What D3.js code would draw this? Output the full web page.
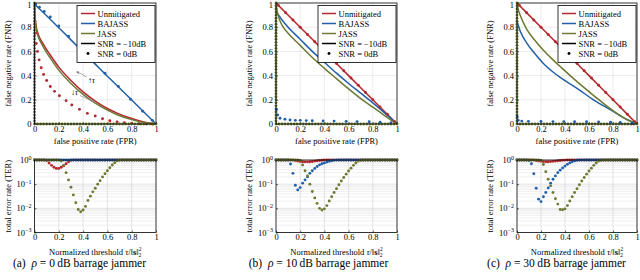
<!DOCTYPE html>
<html><head><meta charset="utf-8">
<script src="https://cdn.jsdelivr.net/npm/d3@7"></script>
<style>
body{margin:0;background:#fff}
svg{display:block}
text{font-family:"Liberation Serif","Times New Roman",serif;fill:#000}
</style>
</head><body>
<svg id="chart" width="640" height="280"></svg>
<script>
// ---------------- DATA ----------------
const rocTicks = [0, 0.2, 0.4, 0.6, 0.8, 1];
const terXTicks = [0, 0.2, 0.4, 0.6, 0.8, 1];
const terYTicks = [1, 0.1, 0.01, 0.001];
const terYTickExp = ["0", "\u22121", "\u22122", "\u22123"];
const legendLabels = ["Unmitigated", "BAJASS", "JASS", "SNR = \u221210dB", "SNR = 0dB"];
const captionLetters = ["(a)", "(b)", "(c)"];
const jammerPowers = ["0", "10", "30"];

// ROC, SNR = -10 dB (solid lines), [FPR, FNR]
const rocA_unmit10 = [[0,1],[0.004,0.9],[0.012,0.82],[0.03,0.745],[0.06,0.68],[0.1,0.615],[0.13,0.57],[0.2,0.47],[0.3,0.36],[0.4,0.265],[0.5,0.19],[0.6,0.128],[0.68,0.09],[0.8,0.045],[0.9,0.017],[1,0]];
const rocA_bajass10 = [[0,0.99],[0.1,0.895],[0.2,0.795],[0.3,0.695],[0.4,0.595],[0.5,0.495],[0.6,0.395],[0.7,0.297],[0.8,0.198],[0.9,0.099],[1,0]];
const rocA_jass10 = [[0,1],[0.004,0.88],[0.012,0.8],[0.03,0.725],[0.06,0.66],[0.1,0.59],[0.13,0.545],[0.2,0.445],[0.3,0.335],[0.4,0.245],[0.5,0.172],[0.6,0.114],[0.68,0.077],[0.8,0.036],[0.9,0.012],[1,0]];
const rocB_unmit10 = [[0,1],[0.2,0.8],[0.4,0.6],[0.6,0.4],[0.8,0.2],[1,0]];
const rocB_bajass10 = [[0,0.93],[0.05,0.86],[0.1,0.8],[0.2,0.7],[0.3,0.6],[0.4,0.51],[0.5,0.42],[0.6,0.335],[0.7,0.255],[0.8,0.175],[0.9,0.09],[1,0]];
const rocB_jass10 = [[0,1],[0.01,0.93],[0.03,0.86],[0.06,0.8],[0.1,0.75],[0.2,0.65],[0.3,0.55],[0.4,0.46],[0.5,0.375],[0.6,0.29],[0.7,0.21],[0.8,0.14],[0.9,0.068],[1,0]];
const rocC_unmit10 = [[0,1],[0.2,0.8],[0.4,0.6],[0.6,0.4],[0.8,0.2],[1,0]];
const rocC_bajass10 = [[0,0.85],[0.03,0.76],[0.083,0.667],[0.15,0.58],[0.22,0.5],[0.3,0.43],[0.36,0.385],[0.5,0.295],[0.64,0.198],[0.78,0.116],[0.92,0.035],[1,0]];
const rocC_jass10 = [[0,1],[0.01,0.95],[0.03,0.89],[0.083,0.78],[0.15,0.69],[0.22,0.61],[0.3,0.53],[0.36,0.475],[0.5,0.35],[0.64,0.235],[0.78,0.125],[0.9,0.045],[1,0]];

// ROC, SNR = 0 dB (markers), [FPR, FNR]
const rocA_unmit0 = [[0.003,0.85],[0.008,0.75],[0.014,0.665],[0.025,0.6],[0.038,0.53],[0.055,0.465],[0.075,0.41],[0.1,0.36],[0.13,0.31],[0.165,0.27],[0.205,0.234],[0.26,0.193],[0.307,0.157],[0.37,0.121],[0.435,0.088],[0.5,0.066],[0.56,0.043],[0.62,0.027],[0.68,0.016],[0.74,0.01],[0.8,0.006],[0.86,0.003],[0.92,0.001],[0.97,0]];
const rocA_bajass0 = [[0.01,0.985],[0.04,0.965],[0.08,0.93],[0.13,0.885],[0.2,0.81],[0.28,0.725],[0.38,0.625],[0.48,0.52],[0.58,0.42],[0.69,0.31],[0.79,0.205],[0.89,0.105],[0.97,0.03]];
const rocB_unmit0 = [[0.02,0.98],[0.08,0.92],[0.14,0.86],[0.2,0.8],[0.26,0.74],[0.32,0.68],[0.38,0.62],[0.44,0.56],[0.5,0.5],[0.56,0.44],[0.62,0.38],[0.68,0.32],[0.74,0.26],[0.8,0.2],[0.86,0.14],[0.92,0.08],[0.98,0.02]];
const rocB_bajass0 = [[0.004,0.12],[0.014,0.075],[0.033,0.047],[0.074,0.039],[0.116,0.033],[0.16,0.03],[0.2,0.03],[0.25,0.028],[0.3,0.027],[0.39,0.025],[0.48,0.024],[0.58,0.022],[0.67,0.02],[0.77,0.018],[0.86,0.015],[0.95,0.01]];
const rocC_unmit0 = [[0.02,0.98],[0.08,0.92],[0.14,0.86],[0.2,0.8],[0.26,0.74],[0.32,0.68],[0.38,0.62],[0.44,0.56],[0.5,0.5],[0.56,0.44],[0.62,0.38],[0.68,0.32],[0.74,0.26],[0.8,0.2],[0.86,0.14],[0.92,0.08],[0.98,0.02]];
const rocC_bajass0 = [[0.002,0.06],[0.01,0.03],[0.04,0.024],[0.095,0.022],[0.2,0.021],[0.3,0.02],[0.39,0.02],[0.48,0.019],[0.58,0.018],[0.68,0.016],[0.78,0.014],[0.86,0.012],[0.96,0.006]];
// JASS at SNR = 0 dB: (near-)perfect detector, markers along both axes
const jass0_leftFNR = [1,0.975,0.95,0.925,0.9,0.875,0.85,0.825,0.8,0.775,0.75,0.725,0.7,0.675,0.65,0.625,0.6,0.575,0.55,0.525,0.5,0.475,0.45,0.425,0.4,0.375,0.35,0.325,0.3,0.275,0.25,0.225,0.2,0.175,0.15,0.125,0.1,0.075,0.05,0.025,0];
const jass0_bottomFPR = [0.025,0.05,0.075,0.1,0.125,0.15,0.175,0.2,0.225,0.25,0.275,0.3,0.325,0.35,0.375,0.4,0.425,0.45,0.475,0.5,0.525,0.55,0.575,0.6,0.625,0.65,0.675,0.7,0.725,0.75,0.775,0.8,0.825,0.85,0.875,0.9,0.925,0.95,0.975,1];

// TER vs normalized threshold (SNR = 0 dB markers)
const thresholds = [0,0.02,0.04,0.06,0.08,0.1,0.12,0.14,0.16,0.18,0.2,0.22,0.24,0.26,0.28,0.3,0.32,0.34,0.36,0.38,0.4,0.42,0.44,0.46,0.48,0.5,0.52,0.54,0.56,0.58,0.6,0.62,0.64,0.66,0.68,0.7,0.72,0.74,0.76,0.78,0.8,0.82,0.84,0.86,0.88,0.9,0.92,0.94,0.96,0.98,1];
const terA_unmit = [1,1,1,1,1,0.95,0.75,0.6,0.5,0.45,0.45,0.5,0.58,0.7,0.85,0.97,1,1,1,1,1,1,1,1,1,1,1,1,1,1,1,1,1,1,1,1,1,1,1,1,1,1,1,1,1,1,1,1,1,1,1];
const terA_bajass = [1,1,1,1,1,1,1,1,1,1,1,1,1,1,1,1,1,1,1,1,1,1,1,1,1,1,1,1,1,1,1,1,1,1,1,1,1,1,1,1,1,1,1,1,1,1,1,1,1,1,1];
const terA_jass = [1,1,1,1,1,1,1,1,1,1,1,0.9,0.6,0.3,0.15,0.075,0.036,0.017,0.009,0.0072,0.0085,0.012,0.021,0.032,0.048,0.068,0.1,0.14,0.2,0.27,0.36,0.48,0.62,0.77,0.92,0.99,1,1,1,1,1,1,1,1,1,1,1,1,1,1,1];
const terB_unmit = [1,1,1,1,1,1,1,1,0.95,0.9,0.87,0.85,0.84,0.84,0.85,0.87,0.9,0.93,0.96,0.98,1,1,1,1,1,1,1,1,1,1,1,1,1,1,1,1,1,1,1,1,1,1,1,1,1,1,1,1,1,1,1];
const terB_bajass = [1,1,1,1,1,1,0.68,0.28,0.09,0.058,0.072,0.11,0.15,0.2,0.28,0.36,0.45,0.54,0.63,0.7,0.76,0.82,0.88,0.93,0.97,0.99,1,1,1,1,1,1,1,1,1,1,1,1,1,1,1,1,1,1,1,1,1,1,1,1,1];
const terB_jass = [1,1,1,1,1,1,1,1,1,1,0.95,0.62,0.36,0.22,0.1,0.05,0.027,0.016,0.01,0.0085,0.0095,0.013,0.02,0.03,0.045,0.065,0.095,0.135,0.19,0.26,0.35,0.46,0.6,0.75,0.9,0.98,1,1,1,1,1,1,1,1,1,1,1,1,1,1,1];
const terC_unmit = [1,1,1,1,1,1,1,1,0.96,0.92,0.88,0.86,0.85,0.85,0.86,0.88,0.9,0.93,0.95,0.97,0.99,1,1,1,1,1,1,1,1,1,1,1,1,1,1,1,1,1,1,1,1,1,1,1,1,1,1,1,1,1,1];
const terC_bajass = [1,1,1,1,1,0.95,0.7,0.27,0.068,0.024,0.019,0.03,0.045,0.07,0.11,0.16,0.22,0.3,0.38,0.47,0.56,0.66,0.76,0.85,0.92,0.97,1,1,1,1,1,1,1,1,1,1,1,1,1,1,1,1,1,1,1,1,1,1,1,1,1];
const terC_jass = [1,1,1,1,1,1,1,1,1,1,0.95,0.65,0.33,0.16,0.085,0.045,0.025,0.015,0.009,0.0088,0.0095,0.013,0.02,0.03,0.045,0.065,0.095,0.135,0.19,0.26,0.35,0.46,0.6,0.75,0.9,0.98,1,1,1,1,1,1,1,1,1,1,1,1,1,1,1];

// ---------------- DRAWING ----------------
const COL = {red: "#b4262c", blue: "#2160a9", olive: "#6c7a33"};
const svg = d3.select("#chart");
svg.append("rect").attr("width", 640).attr("height", 280).attr("fill", "#fff");
const defs = svg.append("defs");
defs.append("marker").attr("id", "ah").attr("viewBox", "0 0 10 10").attr("refX", 8).attr("refY", 5)
  .attr("markerWidth", 5).attr("markerHeight", 5).attr("orient", "auto-start-reverse")
  .append("path").attr("d", "M0,1 L10,5 L0,9 z").attr("fill", "#888");

const jass0 = jass0_leftFNR.map(v => [0, v]).concat(jass0_bottomFPR.map(v => [v, 0]));
const panels = [
  {x0: 34.5, x1: 156, ylab: 7.5, capX: 79.5,
   roc: {u: rocA_unmit10, b: rocA_bajass10, j: rocA_jass10, u0: rocA_unmit0, b0: rocA_bajass0, j0: jass0},
   ter: {u: terA_unmit, b: terA_bajass, j: terA_jass}},
  {x0: 276, x1: 397, ylab: 249, capX: 318.5,
   roc: {u: rocB_unmit10, b: rocB_bajass10, j: rocB_jass10, u0: rocB_unmit0, b0: rocB_bajass0, j0: jass0},
   ter: {u: terB_unmit, b: terB_bajass, j: terB_jass}},
  {x0: 517, x1: 637, ylab: 490, capX: 556.5,
   roc: {u: rocC_unmit10, b: rocC_bajass10, j: rocC_jass10, u0: rocC_unmit0, b0: rocC_bajass0, j0: jass0},
   ter: {u: terC_unmit, b: terC_bajass, j: terC_jass}}
];

const ROC_TOP = 3, ROC_BOT = 124, TER_TOP = 160, TER_BOT = 232.5;
const FS = 8.5;
const fmt = d => d === 0 ? "0" : d === 1 ? "1" : String(d);
const R = 1.45;

panels.forEach((p, pi) => {
  // ---------- ROC ----------
  const x = d3.scaleLinear().domain([0, 1]).range([p.x0, p.x1]);
  const y = d3.scaleLinear().domain([0, 1]).range([ROC_BOT, ROC_TOP]);
  const g = svg.append("g");
  const grid = g.append("g").attr("stroke", "#dedede").attr("stroke-width", 0.6);
  rocTicks.slice(1, -1).forEach(t => {
    grid.append("line").attr("x1", x(t)).attr("x2", x(t)).attr("y1", y(0)).attr("y2", y(1));
    grid.append("line").attr("x1", x(0)).attr("x2", x(1)).attr("y1", y(t)).attr("y2", y(t));
  });
  const ax = g.append("g").attr("transform", `translate(0,${ROC_BOT})`)
    .call(d3.axisBottom(x).tickValues(rocTicks).tickFormat(fmt).tickSizeInner(-2).tickSizeOuter(0).tickPadding(1.5));
  const ay = g.append("g").attr("transform", `translate(${p.x0},0)`)
    .call(d3.axisLeft(y).tickValues(rocTicks).tickFormat(fmt).tickSizeInner(-2).tickSizeOuter(0).tickPadding(3));
  [ax, ay].forEach(a => {
    a.select(".domain").remove();
    a.selectAll("line").attr("stroke", "#000").attr("stroke-width", 0.6);
    a.selectAll("text").attr("font-size", FS).attr("font-family", "Liberation Serif");
  });
  // keep the top "1" label inside the picture
  ay.selectAll(".tick").filter(d => d === 1).select("text").attr("dy", "0.5em");

  const line = d3.line().x(d => x(d[0])).y(d => y(d[1])).curve(d3.curveMonotoneX);
  [["u", COL.red], ["b", COL.blue], ["j", COL.olive]].forEach(([k, c]) => {
    g.append("path").attr("d", line(p.roc[k])).attr("fill", "none").attr("stroke", c).attr("stroke-width", 1.5);
  });
  [["u0", COL.red], ["j0", COL.olive], ["b0", COL.blue]].forEach(([k, c]) => {
    g.append("g").selectAll("circle").data(p.roc[k]).join("circle")
      .attr("cx", d => x(d[0])).attr("cy", d => y(d[1])).attr("r", R).attr("fill", c);
  });
  g.append("rect").attr("x", p.x0).attr("y", ROC_TOP).attr("width", p.x1 - p.x0).attr("height", ROC_BOT - ROC_TOP)
    .attr("fill", "none").attr("stroke", "#000").attr("stroke-width", 0.8);

  // legend
  const lx = p.x1 - 79, ly = 5.5;
  const lg = g.append("g");
  lg.append("rect").attr("x", lx).attr("y", ly).attr("width", 78).attr("height", 57)
    .attr("fill", "#fff").attr("stroke", "#000").attr("stroke-width", 0.8);
  const legCols = [COL.red, COL.blue, COL.olive, "#000", "#000"];
  legendLabels.forEach((lab, i) => {
    const yy = ly + 8 + i * 10;
    if (i < 4) {
      lg.append("line").attr("x1", lx + 4).attr("x2", lx + 18).attr("y1", yy).attr("y2", yy)
        .attr("stroke", legCols[i]).attr("stroke-width", 1.5);
    } else {
      lg.append("circle").attr("cx", lx + 11).attr("cy", yy).attr("r", R).attr("fill", "#000");
    }
    lg.append("text").attr("x", lx + 20.5).attr("y", yy + 3).attr("font-size", FS).text(lab);
  });

  // axis labels
  g.append("text").attr("x", (p.x0 + p.x1) / 2).attr("y", 144).attr("text-anchor", "middle")
    .attr("font-size", FS).text("false positive rate (FPR)");
  g.append("text").attr("transform", `translate(${p.ylab + 3},${(ROC_TOP + ROC_BOT) / 2}) rotate(-90)`)
    .attr("text-anchor", "middle").attr("font-size", FS).text("false negative rate (FNR)");

  // tau annotations (panel a only)
  if (pi === 0) {
    const ann = g.append("g").attr("stroke", "#888").attr("fill", "none").attr("stroke-width", 0.7);
    ann.append("path").attr("d", `M${x(0.43)},${y(0.385)} Q${x(0.39)},${y(0.42)} ${x(0.345)},${y(0.43)}`)
      .attr("marker-end", "url(#ah)");
    ann.append("path").attr("d", `M${x(0.375)},${y(0.235)} Q${x(0.43)},${y(0.21)} ${x(0.49)},${y(0.185)}`)
      .attr("marker-end", "url(#ah)");
    g.append("text").attr("x", x(0.44)).attr("y", y(0.335)).attr("font-size", 8).attr("fill", "#777")
      .html('\u2191<tspan font-style="italic">\u03c4</tspan>');
    g.append("text").attr("x", x(0.3)).attr("y", y(0.24)).attr("font-size", 8).attr("fill", "#777")
      .html('\u2193<tspan font-style="italic">\u03c4</tspan>');
  }

  // ---------- TER ----------
  const tx = d3.scaleLinear().domain([0, 1]).range([p.x0, p.x1]);
  const ty = d3.scaleLog().domain([1e-3, 1]).range([TER_BOT, TER_TOP]);
  const tg = svg.append("g");
  const tgrid = tg.append("g").attr("stroke-width", 0.6);
  ty.ticks().forEach(v => {
    const major = terYTicks.includes(v);
    if (v === 1 || v === 1e-3) return;
    tgrid.append("line").attr("x1", tx(0)).attr("x2", tx(1)).attr("y1", ty(v)).attr("y2", ty(v))
      .attr("stroke", major ? "#d2d2d2" : "#e6e6e6");
  });
  terXTicks.slice(1, -1).forEach(t => {
    tgrid.append("line").attr("x1", tx(t)).attr("x2", tx(t)).attr("y1", TER_TOP).attr("y2", TER_BOT).attr("stroke", "#d2d2d2");
  });
  const tax = tg.append("g").attr("transform", `translate(0,${TER_BOT})`)
    .call(d3.axisBottom(tx).tickValues(terXTicks).tickFormat(fmt).tickSizeInner(-2).tickSizeOuter(0).tickPadding(1.5));
  tax.select(".domain").remove();
  tax.selectAll("line").attr("stroke", "#000").attr("stroke-width", 0.6);
  tax.selectAll("text").attr("font-size", FS).attr("font-family", "Liberation Serif");
  const tay = tg.append("g").attr("transform", `translate(${p.x0},0)`)
    .call(d3.axisLeft(ty).tickValues(terYTicks).tickFormat("").tickSizeInner(-2).tickSizeOuter(0));
  tay.select(".domain").remove();
  tay.selectAll("line").attr("stroke", "#000").attr("stroke-width", 0.6);
  terYTicks.forEach((v, i) => {
    const t = tg.append("text").attr("x", p.x0 - 3).attr("y", ty(v) + 3).attr("text-anchor", "end").attr("font-size", FS);
    t.append("tspan").text("10");
    t.append("tspan").attr("font-size", 6).attr("dy", -3.5).text(terYTickExp[i]);
  });
  [["u", COL.red], ["b", COL.blue], ["j", COL.olive]].forEach(([k, c]) => {
    tg.append("g").selectAll("circle").data(p.ter[k].map((v, i) => [thresholds[i], v])).join("circle")
      .attr("cx", d => tx(d[0])).attr("cy", d => ty(d[1])).attr("r", R).attr("fill", c);
  });
  tg.append("rect").attr("x", p.x0).attr("y", TER_TOP).attr("width", p.x1 - p.x0).attr("height", TER_BOT - TER_TOP)
    .attr("fill", "none").attr("stroke", "#000").attr("stroke-width", 0.8);
  // labels
  const xl = tg.append("text").attr("x", (p.x0 + p.x1) / 2).attr("y", 254.5).attr("text-anchor", "middle").attr("font-size", FS);
  xl.append("tspan").text("Normalized threshold ");
  xl.append("tspan").attr("font-style", "italic").text("\u03c4");
  xl.append("tspan").text("/\u2016");
  xl.append("tspan").attr("font-weight", "bold").text("s");
  xl.append("tspan").text("\u2016");
  xl.append("tspan").attr("font-size", 5.5).attr("dy", -3.5).text("2");
  xl.append("tspan").attr("font-size", 5.5).attr("dx", -2.8).attr("dy", 6).text("2");
  tg.append("text").attr("transform", `translate(${p.ylab + 3},${(TER_TOP + TER_BOT) / 2}) rotate(-90)`)
    .attr("text-anchor", "middle").attr("font-size", FS).text("total error rate (TER)");

  // caption
  const cap = svg.append("text").attr("x", p.capX).attr("y", 267).attr("text-anchor", "middle").attr("font-size", 11.5);
  cap.append("tspan").text(captionLetters[pi] + "\u2002");
  cap.append("tspan").attr("font-style", "italic").text("\u03c1");
  cap.append("tspan").text(" = " + jammerPowers[pi] + "\u2009dB  barrage jammer");
});
</script>
</body></html>
